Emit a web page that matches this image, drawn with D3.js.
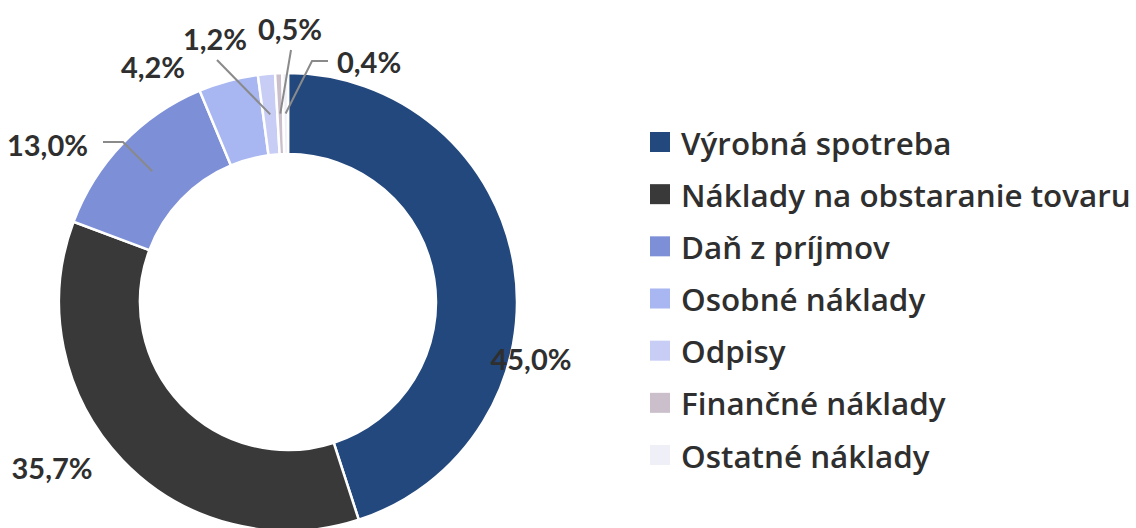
<!DOCTYPE html>
<html>
<head>
<meta charset="utf-8">
<script src="https://cdn.jsdelivr.net/npm/d3@7"></script>
<style>
  html, body { margin: 0; padding: 0; background: #fff; }
  svg { display: block; }
  text { fill: #2f2f2f; }
</style>
</head>
<body>
<svg id="chart" width="1136" height="528"></svg>
<script>
// ---- data ----
const categories = [
  "Výrobná spotreba",
  "Náklady na obstaranie tovaru",
  "Daň z príjmov",
  "Osobné náklady",
  "Odpisy",
  "Finančné náklady",
  "Ostatné náklady"
];
const values = [45.0, 35.7, 13.0, 4.2, 1.2, 0.5, 0.4];
const colors = ["#23487d", "#393939", "#7d8fd7", "#a8b6f2", "#c7cdf5", "#cbbfcb", "#efeff7"];

// ---- layout (not data) ----
const W = 1136, H = 528;
const cx = 288, cy = 302, R = 229, r = 148;
const labelLayout = [
  { x: 243, y: 56, anchor: "middle", leader: null },
  { x: -236, y: 165, anchor: "middle", leader: null },
  { x: -200, y: -158, anchor: "end", leader: [[-165, -160], [-185, -160]] },
  { x: -135, y: -236, anchor: "middle", leader: null },
  { x: -73, y: -264, anchor: "middle", leader: [[-71, -242]] },
  { x: 2, y: -274, anchor: "middle", leader: [[3, -252]] },
  { x: 49, y: -241, anchor: "start", leader: [[24, -241], [40, -241]] }
];

const svg = d3.select("#chart");
const g = svg.append("g").attr("transform", `translate(${cx},${cy})`);

const pie = d3.pie().sort(null).value(d => d)(values);
const arc = d3.arc().innerRadius(r).outerRadius(R);
const midArc = d3.arc().innerRadius((r + R) / 2).outerRadius((r + R) / 2);

g.selectAll("path.slice")
  .data(pie)
  .join("path")
  .attr("class", "slice")
  .attr("d", arc)
  .attr("fill", (d, i) => colors[i])
  .attr("stroke", "#fff")
  .attr("stroke-width", 2.5);

const fmt = v => d3.format(".1f")(v).replace(".", ",") + "%";

pie.forEach((d, i) => {
  const L = labelLayout[i];
  if (!L.leader) return;
  const pts = [midArc.centroid(d), ...L.leader];
  g.append("path")
    .attr("d", d3.line()(pts))
    .attr("fill", "none")
    .attr("stroke", "#8a8a8a")
    .attr("stroke-width", 2);
});

g.selectAll("text.lbl")
  .data(pie)
  .join("text")
  .attr("class", "lbl")
  .attr("x", (d, i) => labelLayout[i].x)
  .attr("y", (d, i) => labelLayout[i].y)
  .attr("text-anchor", (d, i) => labelLayout[i].anchor)
  .attr("dominant-baseline", "central")
  .style("font-family", "Lato, sans-serif")
  .style("font-weight", 700)
  .style("font-size", "29px")
  .text(d => fmt(d.data));

// legend
const legendY = d3.scalePoint().domain(categories).range([142, 455]);
const lg = svg.append("g");
const items = lg.selectAll("g.item")
  .data(categories)
  .join("g")
  .attr("class", "item")
  .attr("transform", d => `translate(650,${legendY(d)})`);
items.append("rect")
  .attr("x", 0).attr("y", -10)
  .attr("width", 20).attr("height", 20)
  .attr("fill", (d, i) => colors[i]);
const lt = items.append("text")
  .attr("x", 31).attr("y", 0)
  .attr("dominant-baseline", "central")
  .style("font-family", "'Open Sans', sans-serif")
  .style("font-weight", 600)
  .style("font-size", "28px")
  .text(d => d);
// fit longest legend entry to the available width
const maxW = d3.max(lt.nodes(), n => n.getComputedTextLength());
const fs = 28 * 450 / maxW;
lt.style("font-size", Math.min(fs, 32) + "px");
</script>
</body>
</html>
